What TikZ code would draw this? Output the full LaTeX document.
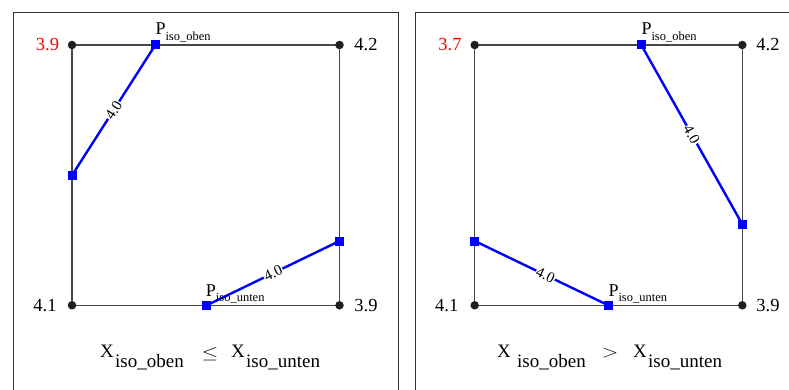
\documentclass[tikz,border=0pt]{standalone}
\usepackage{fontspec}
\setmainfont{Liberation Serif}
\usetikzlibrary{backgrounds}
\begin{document}
\begin{tikzpicture}[x=1pt,y=-1pt,
  frame/.style={draw=black!80, line width=1.3pt},
  sqedge/.style={draw=black!72, line width=1.3pt},
  corner/.style={circle, fill=black!88, inner sep=0pt, minimum size=8.5pt},
  bpt/.style={rectangle, fill=blue, inner sep=0pt, minimum size=9pt},
  bline/.style={draw=blue, line width=2.4pt},
  elab/.style={sloped, fill=white, inner sep=0.8pt, font=\fontsize{15}{15}\selectfont},
  clab/.style={inner sep=0pt, font=\fontsize{18.5}{20}\selectfont},
  plab/.style={anchor=base west, inner sep=0pt, font=\fontsize{18}{20}\selectfont},
  flab/.style={anchor=base west, inner sep=0pt, font=\fontsize{19}{20}\selectfont},
  rel/.style={inner sep=0pt, font=\fontsize{19}{20}\selectfont}
]
\useasboundingbox (0,0) rectangle (789,390);
\begin{scope}[on background layer]
\fill[white] (0,0) rectangle (789,390);
\end{scope}

% frames
\draw[frame] (13.3,391) -- (13.3,12.3) -- (398.7,12.3) -- (398.7,391);
\draw[frame] (415.3,391) -- (415.3,12.3) -- (790,12.3);

% ---------- panel 1 ----------
\node[corner] (tl1) at (72,45) {};
\node[corner] (tr1) at (339.5,45) {};
\node[corner] (bl1) at (72,305.3) {};
\node[corner] (br1) at (339.5,305.3) {};
\node[bpt] (po1) at (155.3,45) {};
\node[bpt] (pl1) at (72,175.3) {};
\node[bpt] (pr1) at (339.5,241) {};
\node[bpt] (pu1) at (206.7,305.3) {};
\begin{scope}[on background layer]
\draw[sqedge] (tl1.center) -- (tr1.center) -- (br1.center) -- (bl1.center) -- cycle;
\draw[bline] (pl1.center) -- node[elab] (e11) {4.0} (po1.center);
\draw[bline] (pu1.center) -- node[elab] (e12) {4.0} (pr1.center);
\end{scope}
\node[clab, text=red] (l11) at (47.5,45) {3.9};
\node[clab] (l12) at (366,45) {4.2};
\node[clab] (l13) at (45,305.3) {4.1};
\node[clab] (l14) at (366,305.3) {3.9};
\node[plab] (po1t) at (155.3,35) {P\raisebox{-5.7pt}{\fontsize{12.5}{13}\selectfont iso\_oben}};
\node[plab] (pu1t) at (205.7,296) {P\raisebox{-5.7pt}{\fontsize{12.5}{13}\selectfont iso\_unten}};
\node[flab] (f11) at (100,357.3) {X};
\node[flab] (f12) at (115,367.7) {iso\_oben};
\node[rel] (f13) at (210,354) {\scalebox{1.25}[1]{$\leq$}};
\node[flab] (f14) at (231,357.3) {X};
\node[flab] (f15) at (246,367.7) {iso\_unten};

% ---------- panel 2 ----------
\node[corner] (tl2) at (474.7,45) {};
\node[corner] (tr2) at (742.3,45) {};
\node[corner] (bl2) at (474.7,305.3) {};
\node[corner] (br2) at (742.3,305.3) {};
\node[bpt] (po2) at (641.3,45) {};
\node[bpt] (pr2) at (742.3,224.3) {};
\node[bpt] (pl2) at (474.7,241) {};
\node[bpt] (pu2) at (608.3,305.3) {};
\begin{scope}[on background layer]
\draw[sqedge] (tl2.center) -- (tr2.center) -- (br2.center) -- (bl2.center) -- cycle;
\draw[bline] (po2.center) -- node[elab] (e21) {4.0} (pr2.center);
\draw[bline] (pl2.center) -- node[elab, pos=0.53] (e22) {4.0} (pu2.center);
\end{scope}
\node[clab, text=red] (l21) at (450,45) {3.7};
\node[clab] (l22) at (768,45) {4.2};
\node[clab] (l23) at (446.7,305.3) {4.1};
\node[clab] (l24) at (768,305.3) {3.9};
\node[plab] (po2t) at (641.3,35) {P\raisebox{-5.7pt}{\fontsize{12.5}{13}\selectfont iso\_oben}};
\node[plab] (pu2t) at (608.3,296) {P\raisebox{-5.7pt}{\fontsize{12.5}{13}\selectfont iso\_unten}};
\node[flab] (f21) at (497,357.3) {X};
\node[flab] (f22) at (517,367.7) {iso\_oben};
\node[rel] (f23) at (610,353) {\scalebox{1.25}[1]{$>$}};
\node[flab] (f24) at (633,357.3) {X};
\node[flab] (f25) at (648,367.7) {iso\_unten};
\end{tikzpicture}
\end{document}
